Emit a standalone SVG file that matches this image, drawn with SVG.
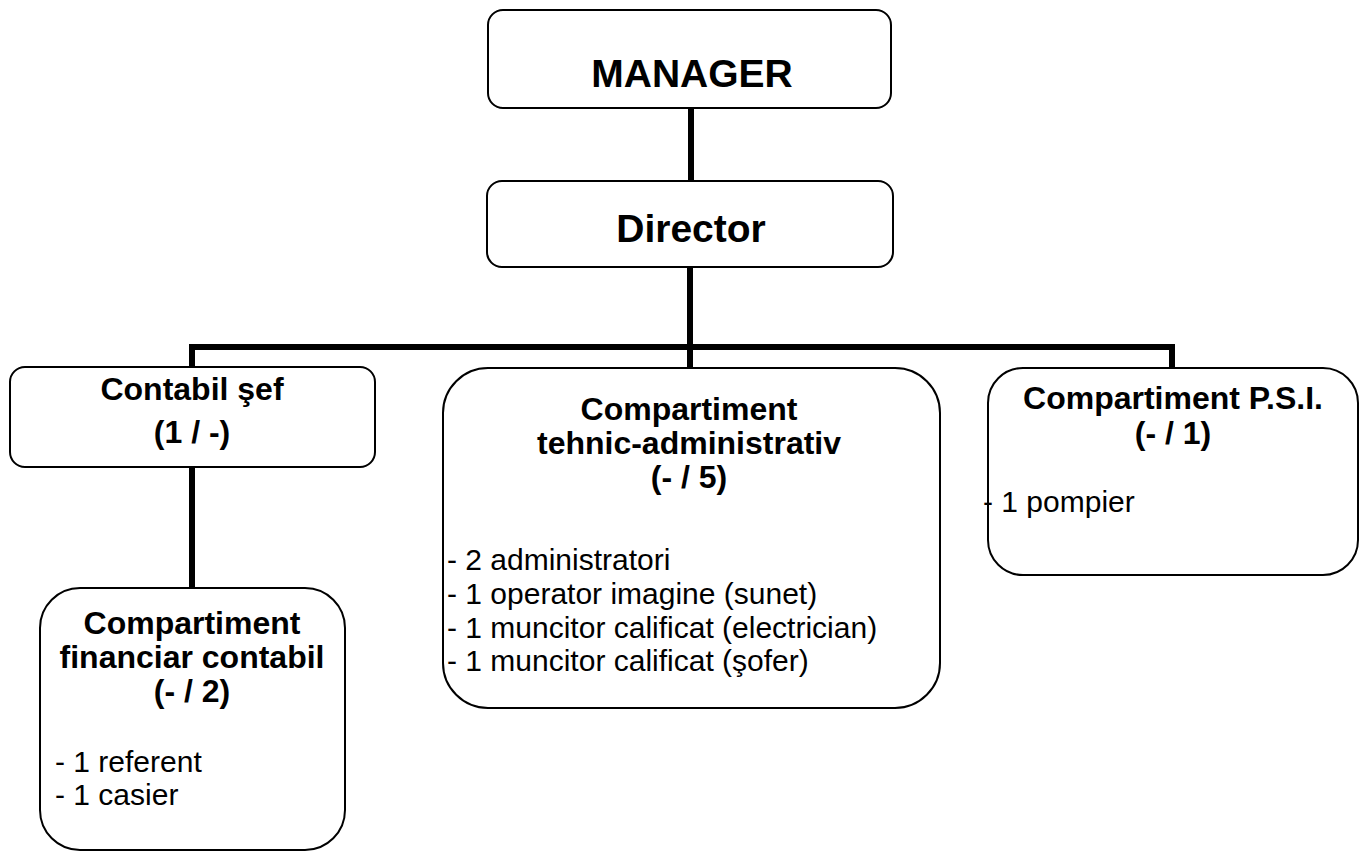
<svg xmlns="http://www.w3.org/2000/svg" width="1366" height="852" viewBox="0 0 1366 852">
<style>
.box{fill:#fff;stroke:#000;stroke-width:2}
.con{stroke:#000;stroke-width:6;fill:none;stroke-linecap:square}
.big{font-family:"Liberation Sans",Arial,sans-serif;font-weight:bold;font-size:39px;text-anchor:middle;fill:#000}
.hd{font-family:"Liberation Sans",Arial,sans-serif;font-weight:bold;font-size:32px;text-anchor:middle;fill:#000}
.ls{font-family:"Liberation Sans",Arial,sans-serif;font-size:30px;fill:#000}
</style>
<rect width="1366" height="852" fill="#fff"/>
<g id="connectors">
<line class="con" x1="691" y1="108" x2="691" y2="181"/>
<line class="con" x1="690" y1="267" x2="690" y2="368"/>
<polyline class="con" points="192,367 192,347 1172,347 1172,368"/>
<line class="con" x1="192" y1="467" x2="192" y2="588"/>
</g>
<g id="manager">
<rect class="box" x="488" y="10" width="403" height="98" rx="15"/>
<text class="big" x="692" y="87">MANAGER</text>
</g>
<g id="director">
<rect class="box" x="487" y="181" width="406" height="86" rx="15"/>
<text class="big" x="691" y="242">Director</text>
</g>
<g id="contabil">
<rect class="box" x="10" y="367" width="365" height="100" rx="15"/>
<text class="hd" x="192" y="400">Contabil şef</text>
<text class="hd" x="192" y="443">(1 / -)</text>
</g>
<g id="financiar">
<rect class="box" x="40" y="588" width="305" height="262" rx="40"/>
<text class="hd" x="192" y="634">Compartiment</text>
<text class="hd" x="192" y="668">financiar contabil</text>
<text class="hd" x="192" y="702">(- / 2)</text>
<text class="ls" x="55" y="772">- 1 referent</text>
<text class="ls" x="55" y="805">- 1 casier</text>
</g>
<g id="tehnic">
<rect class="box" x="443" y="368" width="497" height="340" rx="45"/>
<text class="hd" x="689" y="420">Compartiment</text>
<text class="hd" x="689" y="454">tehnic-administrativ</text>
<text class="hd" x="689" y="488">(- / 5)</text>
<text class="ls" x="447" y="570">- 2 administratori</text>
<text class="ls" x="447" y="604">- 1 operator imagine (sunet)</text>
<text class="ls" x="447" y="638">- 1 muncitor calificat (electrician)</text>
<text class="ls" x="447" y="671">- 1 muncitor calificat (şofer)</text>
</g>
<g id="psi">
<rect class="box" x="988" y="368" width="370" height="207" rx="35"/>
<text class="hd" x="1173" y="409">Compartiment P.S.I.</text>
<text class="hd" x="1173" y="444">(- / 1)</text>
<text class="ls" x="983" y="512">- 1 pompier</text>
</g>
</svg>
